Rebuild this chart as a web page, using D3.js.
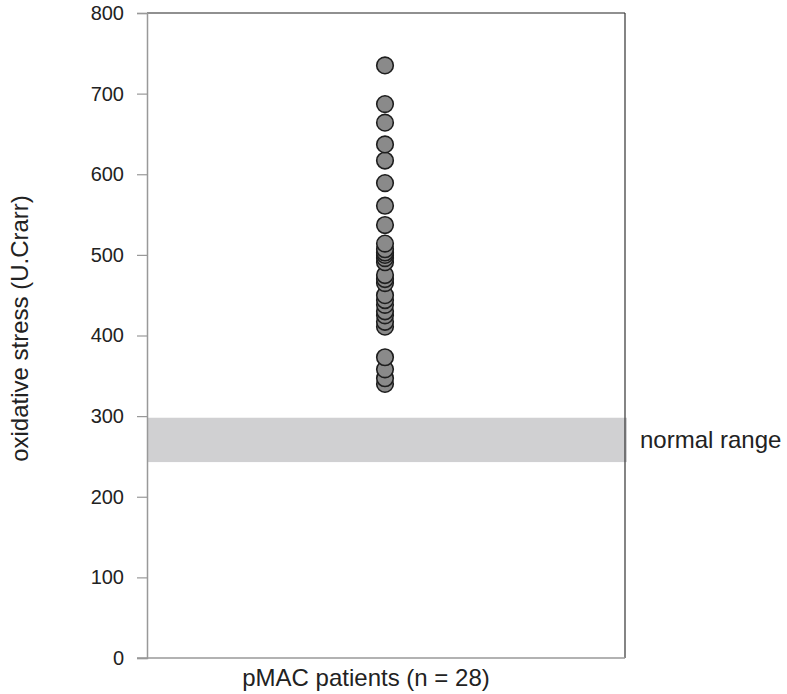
<!DOCTYPE html>
<html>
<head>
<meta charset="utf-8">
<script src="https://cdn.jsdelivr.net/npm/d3@7"></script>
<style>
  body { margin: 0; background: #fff; }
  text { font-family: "Liberation Sans", Arial, sans-serif; fill: #222; }
</style>
</head>
<body>
<svg id="chart" width="787" height="694"></svg>
<script>
// values (U.Carr)
const group = "pMAC patients (n = 28)";
const stress = [735, 687, 664, 637, 617, 589, 561, 537, 514, 507, 503, 500, 496, 491,
                475, 470, 465, 450, 444, 438, 430, 425, 417, 411, 373, 358, 347, 340];
const normalRange = [243, 298];
const yTicks = [0, 100, 200, 300, 400, 500, 600, 700, 800];

const margin = {top: 13, right: 162, bottom: 36, left: 147},
  w = 787 - margin.left - margin.right,
  h = 694 - margin.top - margin.bottom;

var svg = d3.select("#chart")
  .append("g")
  .attr("transform", "translate(" + margin.left + "," + margin.top + ")");

var x = d3.scaleBand().domain([group]).range([0, w]);
var y = d3.scaleLinear().domain([0, 800]).range([h, 0]);

// normal range band
svg.append("rect")
  .attr("x", 0)
  .attr("width", w + 2)
  .attr("y", y(normalRange[1]))
  .attr("height", y(normalRange[0]) - y(normalRange[1]))
  .attr("fill", "#d0d0d2");

// top and right frame
svg.append("line").attr("x1", 0).attr("x2", w).attr("y1", 0).attr("y2", 0)
  .attr("stroke", "#222").attr("stroke-width", 1.2);
svg.append("line").attr("x1", w).attr("x2", w).attr("y1", 0).attr("y2", h)
  .attr("stroke", "#333").attr("stroke-width", 1.2);

// y axis
var gY = svg.append("g")
  .call(d3.axisLeft(y).tickValues(yTicks).tickSize(10).tickPadding(13).tickFormat(d3.format("d")));
gY.select(".domain").attr("stroke", "#999").attr("stroke-width", 1.5);
gY.selectAll(".tick line").attr("stroke", "#999").attr("stroke-width", 1.2);
gY.selectAll(".tick text").style("font-size", "20px").attr("fill", "#222");

// x axis line (extends left like the tick)
svg.append("line").attr("x1", -10).attr("x2", w).attr("y1", h).attr("y2", h)
  .attr("stroke", "#999").attr("stroke-width", 1.5);

// category label sits a bit left of the band centre in the original
svg.append("text")
  .attr("x", x(group) + x.bandwidth() / 2 - 20)
  .attr("y", h + 28)
  .attr("text-anchor", "middle")
  .style("font-size", "24px")
  .text(group);

svg.append("text")
  .attr("transform", "translate(" + (-119) + "," + (h / 2 - 7) + ") rotate(-90)")
  .attr("text-anchor", "middle")
  .style("font-size", "24px")
  .text("oxidative stress (U.Crarr)");

svg.append("text")
  .attr("x", w + 15)
  .attr("y", y((normalRange[0] + normalRange[1]) / 2) + 8)
  .style("font-size", "24px")
  .text("normal range");

// points, drawn from the bottom up like the original
var cx = x(group) + x.bandwidth() / 2 - 1;
svg.selectAll(".dot")
  .data(stress.slice().sort((a, b) => a - b))
  .enter()
  .append("circle")
  .attr("class", "dot")
  .attr("cx", cx)
  .attr("cy", d => y(d))
  .attr("r", 8.3)
  .attr("fill", "#8a8a8a")
  .attr("stroke", "#1e1e1e")
  .attr("stroke-width", 1.6);
</script>
</body>
</html>
